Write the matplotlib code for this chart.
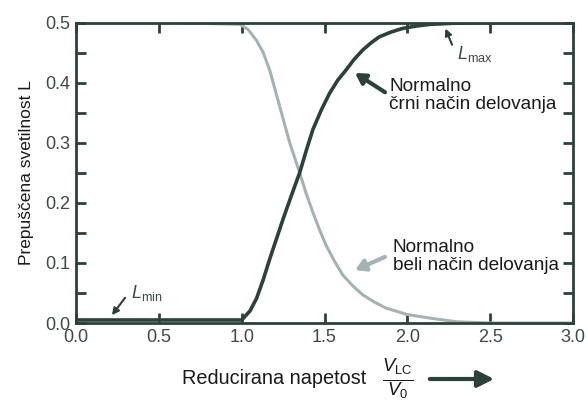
import numpy as np
import matplotlib
matplotlib.use('Agg')
import matplotlib.pyplot as plt
from matplotlib.patches import FancyArrowPatch

plt.rcParams['font.family'] = ['Liberation Sans', 'DejaVu Sans']
plt.rcParams['mathtext.fontset'] = 'custom'
plt.rcParams['mathtext.rm'] = 'Liberation Sans'
plt.rcParams['mathtext.it'] = 'Liberation Sans:italic'

# normally black mode
black_x = [0.0, 0.5, 1.0, 1.01, 1.05, 1.09, 1.13, 1.17, 1.21, 1.25, 1.3, 1.35, 1.39, 1.43, 1.48,
           1.53, 1.58, 1.63, 1.68, 1.73, 1.78, 1.83, 1.9, 1.97, 2.05, 2.14, 2.3, 2.5, 3.0]
black_y = [0.005, 0.005, 0.005, 0.008, 0.02, 0.041, 0.072, 0.107, 0.14, 0.173, 0.212, 0.25, 0.287,
           0.322, 0.354, 0.382, 0.404, 0.421, 0.439, 0.454, 0.466, 0.476, 0.484, 0.49, 0.494,
           0.497, 0.499, 0.5, 0.5]

# normally white mode
white_x = [0.0, 0.5, 0.99, 1.04, 1.09, 1.13, 1.17, 1.2, 1.23, 1.26, 1.29, 1.32, 1.35, 1.39, 1.43,
           1.47, 1.51, 1.56, 1.61, 1.67, 1.73, 1.8, 1.87, 2.0, 2.14, 2.3, 2.5, 3.0]
white_y = [0.5, 0.5, 0.497, 0.488, 0.47, 0.45, 0.42, 0.39, 0.36, 0.33, 0.30, 0.275, 0.25, 0.215,
           0.184, 0.155, 0.129, 0.103, 0.08, 0.062, 0.047, 0.035, 0.025, 0.014, 0.008, 0.002,
           0.0, 0.0]

x_ticks = [0.0, 0.5, 1.0, 1.5, 2.0, 2.5, 3.0]
y_ticks = [0.0, 0.1, 0.2, 0.3, 0.4, 0.5]

dark = '#2c4238'
light = '#a3b3b5'
txt = '#1a1a1a'

fig = plt.figure(figsize=(5.88, 4.01), dpi=100)
ax = fig.add_axes([76 / 588, 1 - 323 / 401, 497 / 588, 300.5 / 401])

ax.plot(white_x, white_y, color=light, lw=2.2, zorder=2)
ax.plot(black_x, black_y, color=dark, lw=2.6, zorder=3)

ax.set_xlim(0, 3)
ax.set_ylim(0, 0.5)
ax.set_xticks(x_ticks)
ax.set_yticks(y_ticks)
ax.set_xticklabels([f'{v:.1f}' for v in x_ticks])
ax.set_yticklabels([f'{v:.1f}' for v in y_ticks])
ax.set_yticks(np.arange(0.05, 0.5, 0.1), minor=True)
ax.tick_params(which='both', direction='in', top=True, right=True,
               length=7, width=2, color=dark, labelsize=13, labelcolor='#3c4a48', pad=4)
for s in ax.spines.values():
    s.set_color(dark)
    s.set_linewidth(2)

ax.set_ylabel('Prepuščena svetilnost L', fontsize=12.5, color=txt, labelpad=8)

# annotations
big_arrow = '-|>,head_length=0.6,head_width=0.35'
ax.text(1.89, 0.379, 'Normalno\nčrni način delovanja', fontsize=13.7, color=txt,
        va='center', ha='left', linespacing=1.1)
ax.annotate('', xy=(1.684, 0.416), xytext=(1.865, 0.384),
            arrowprops=dict(arrowstyle=big_arrow, color=dark, lw=3, shrinkA=0, shrinkB=0))
ax.text(1.913, 0.111, 'Normalno\nbeli način delovanja', fontsize=13.7, color=txt,
        va='center', ha='left', linespacing=1.1)
ax.annotate('', xy=(1.684, 0.088), xytext=(1.865, 0.11),
            arrowprops=dict(arrowstyle=big_arrow, color=light, lw=3, shrinkA=0, shrinkB=0))

small_arrow = '-|>,head_length=0.4,head_width=0.2'
ax.text(2.30, 0.447, r'$L_{\rm max}$', fontsize=13, color='#3a4a44', ha='left', va='center')
ax.annotate('', xy=(2.23, 0.49), xytext=(2.27, 0.463),
            arrowprops=dict(arrowstyle=small_arrow, color=dark, lw=1.5, shrinkA=0, shrinkB=0))
ax.text(0.33, 0.05, r'$L_{\rm min}$', fontsize=13, color='#3a4a44', ha='left', va='center')
ax.annotate('', xy=(0.217, 0.013), xytext=(0.296, 0.042),
            arrowprops=dict(arrowstyle=small_arrow, color=dark, lw=1.5, shrinkA=0, shrinkB=0))

# x label with fraction and arrow
fig.text(274 / 588, 1 - 379 / 401, 'Reducirana napetost', fontsize=14.3, color=txt,
         ha='center', va='center')
fig.text(398 / 588, 1 - 380 / 401, r'$\frac{V_{\rm LC}}{V_0}$', fontsize=19, color=txt,
         ha='center', va='center')
fig.patches.append(FancyArrowPatch(
    (427 / 588, 1 - 379 / 401), (497 / 588, 1 - 379 / 401), transform=fig.transFigure,
    arrowstyle='-|>,head_length=0.7,head_width=0.35', color=dark, lw=3, mutation_scale=14))

fig.savefig('out.png', dpi=100, facecolor='white')
